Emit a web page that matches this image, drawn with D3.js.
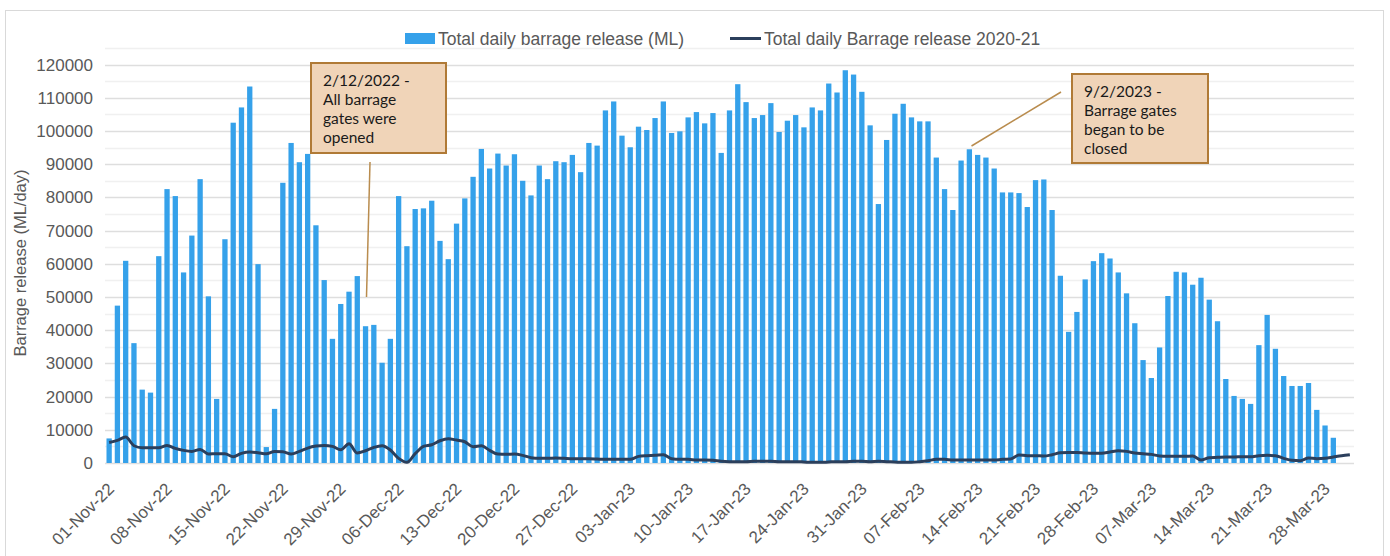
<!DOCTYPE html>
<html>
<head>
<meta charset="utf-8">
<script src="https://cdn.jsdelivr.net/npm/d3@7"></script>
<style>
  body { margin: 0; background: #fff; }
  svg { font-family: "Liberation Sans", Arial, sans-serif; }
  .axis text { fill: #595959; font-size: 17px; }
  .note { font-family: Lato, "Open Sans", sans-serif; font-size: 15.5px; fill: #1a1a1a; }
</style>
</head>
<body>
<div id="chart"></div>
<script>
var svgWidth = 1390;
var svgHeight = 556;

var margin = { top: 48, right: 36, bottom: 93, left: 105 };
var width = svgWidth - margin.left - margin.right;
var height = svgHeight - margin.top - margin.bottom;

// daily categories 01-Nov-22 .. 31-Mar-23
var fmt = d3.timeFormat("%d-%b-%y");
var dates = d3.timeDay.range(new Date(2022, 10, 1), new Date(2023, 3, 1)).map(fmt);

var tickLabels = ["01-Nov-22", "08-Nov-22", "15-Nov-22", "22-Nov-22", "29-Nov-22", "06-Dec-22",
    "13-Dec-22", "20-Dec-22", "27-Dec-22", "03-Jan-23", "10-Jan-23", "17-Jan-23", "24-Jan-23",
    "31-Jan-23", "07-Feb-23", "14-Feb-23", "21-Feb-23", "28-Feb-23", "07-Mar-23", "14-Mar-23",
    "21-Mar-23", "28-Mar-23"];

var yTicks = [0, 10000, 20000, 30000, 40000, 50000, 60000, 70000, 80000, 90000, 100000, 110000, 120000];

// Total daily barrage release (ML), 2022-23
var release = [
    7400, 47400, 60900, 36100, 22100, 21200, 62300, 82500, 80400, 57400,
    68500, 85500, 50200, 19300, 67400, 102500, 107100, 113400, 59900, 4800,
    16300, 84400, 96400, 90600, 93100, 71600, 55100, 37400, 47900, 51600,
    56300, 41200, 41600, 30200, 37400, 80400, 65300, 76500, 76700, 79000,
    66900, 61400, 72100, 79700, 86200, 94600, 88700, 93200, 89600, 93000,
    85000, 80600, 89600, 85500, 90900, 90600, 92800, 87600, 96400, 95600,
    106200, 108900, 98600, 95100, 101300, 100300, 103900, 108900, 99400, 99900,
    104100, 105700, 102300, 105400, 93400, 106200, 114100, 108700, 103900, 104800,
    108400, 99700, 103100, 104800, 101100, 107100, 106200, 114300, 111600, 118300,
    117000, 111800, 101700, 78000, 97300, 105200, 108200, 104100, 102900, 102900,
    92000, 82500, 76200, 91100, 94500, 92800, 92000, 88700, 81500, 81500,
    81300, 77100, 85200, 85400, 76200, 56400, 39500, 45500, 55300, 60800,
    63200, 61600, 57400, 51100, 42100, 31000, 25600, 34800, 50300, 57600,
    57400, 53700, 55800, 49200, 42700, 25300, 20200, 19300, 17800, 35500,
    44600, 34400, 26200, 23200, 23200, 24100, 16000, 11300, 7600, null, null
];

// Total daily Barrage release 2020-21
var release2021 = [
    6200, 6800, 7800, 5200, 4600, 4600, 4600, 5300, 4400, 3800,
    3500, 4100, 2700, 2800, 2800, 1900, 2900, 3300, 3100, 2800,
    3500, 3400, 2700, 3500, 4500, 5100, 5300, 5000, 4000, 5800,
    3000, 3700, 4700, 5200, 3900, 1400, 200, 2800, 5000, 5500,
    6700, 7300, 6900, 6400, 4900, 5200, 3800, 2700, 2600, 2700,
    2300, 1600, 1400, 1400, 1500, 1400, 1300, 1300, 1300, 1200,
    1100, 1100, 1100, 1100, 2000, 2200, 2300, 2500, 1300, 1100,
    1100, 900, 900, 800, 500, 400, 400, 400, 500, 500,
    500, 400, 400, 400, 300, 200, 200, 300, 400, 400,
    500, 500, 400, 500, 400, 300, 200, 200, 400, 700,
    1100, 1100, 900, 900, 900, 900, 900, 900, 1100, 1200,
    2400, 2200, 2200, 2100, 2500, 3100, 3200, 3200, 3000, 2900,
    2900, 3300, 3700, 3500, 3000, 2800, 2600, 2100, 2000, 2000,
    2000, 2100, 900, 1600, 1700, 1800, 1800, 1900, 1900, 2200,
    2300, 2200, 1400, 800, 700, 1500, 1300, 1400, 1800, 2200, 2500
];

var svg = d3.select("#chart")
    .append("svg")
    .attr("width", svgWidth)
    .attr("height", svgHeight);

// chart frame
svg.append("rect")
    .attr("x", 5.5).attr("y", 10.5)
    .attr("width", 1378).attr("height", 560)
    .attr("fill", "none")
    .attr("stroke", "#d9d9d9");

var chartGroup = svg.append("g")
    .attr("transform", `translate(${margin.left}, ${margin.top})`);

var xBand = d3.scaleBand()
    .domain(dates)
    .range([0, width])
    .paddingInner(0.36)
    .paddingOuter(0.18);

var yLinearScale = d3.scaleLinear()
    .domain([0, 125000])
    .range([height, 0]);

// gridlines (major every 10000, minor every 5000)
chartGroup.append("g")
    .selectAll("line")
    .data(d3.range(0, 125001, 5000))
    .enter()
    .append("line")
    .attr("x1", 0)
    .attr("x2", width)
    .attr("y1", d => Math.round(yLinearScale(d)) + 0.5)
    .attr("y2", d => Math.round(yLinearScale(d)) + 0.5)
    .attr("stroke", d => d % 10000 === 0 ? "#dedede" : "#f0f0f0")
    .attr("stroke-width", 1.5);

// bars
chartGroup.append("g")
    .selectAll("rect")
    .data(dates.map((d, i) => ({ date: d, value: release[i] })).filter(d => d.value != null))
    .enter()
    .append("rect")
    .attr("x", d => xBand(d.date))
    .attr("width", xBand.bandwidth())
    .attr("y", d => yLinearScale(d.value))
    .attr("height", d => height - yLinearScale(d.value))
    .attr("fill", "#35a1ea");

// 2020-21 line
var line = d3.line()
    .x((d, i) => xBand(dates[i]) + xBand.bandwidth() / 2)
    .y(d => yLinearScale(d))
    .curve(d3.curveMonotoneX);

chartGroup.append("path")
    .datum(release2021)
    .attr("d", line)
    .attr("fill", "none")
    .attr("stroke", "#2b3f5c")
    .attr("stroke-width", 3);

// axes
var leftAxis = d3.axisLeft(yLinearScale)
    .tickValues(yTicks)
    .tickSize(0)
    .tickPadding(12)
    .tickFormat(d3.format("d"));

chartGroup.append("g")
    .attr("class", "axis")
    .call(leftAxis)
    .call(g => g.select(".domain").remove());

var bottomAxis = d3.axisBottom(xBand)
    .tickValues(tickLabels)
    .tickSize(0)
    .tickPadding(0);

chartGroup.append("g")
    .attr("class", "axis")
    .attr("transform", `translate(0, ${height})`)
    .call(bottomAxis)
    .call(g => g.select(".domain").remove())
    .selectAll("text")
    .attr("text-anchor", "end")
    .attr("dy", null)
    .attr("y", 0)
    .attr("transform", "translate(6, 27) rotate(-45)");

// y axis title
svg.append("text")
    .attr("transform", "translate(26, 263) rotate(-90)")
    .attr("text-anchor", "middle")
    .attr("fill", "#595959")
    .attr("font-size", "16.5px")
    .text("Barrage release (ML/day)");

// legend
var legend = svg.append("g");
legend.append("rect")
    .attr("x", 405).attr("y", 33)
    .attr("width", 30).attr("height", 11)
    .attr("fill", "#35a1ea");
legend.append("text")
    .attr("x", 438).attr("y", 44.5)
    .attr("fill", "#595959").attr("font-size", "17.5px")
    .text("Total daily barrage release (ML)");
legend.append("line")
    .attr("x1", 730).attr("x2", 761)
    .attr("y1", 38.5).attr("y2", 38.5)
    .attr("stroke", "#2b3f5c").attr("stroke-width", 3);
legend.append("text")
    .attr("x", 764).attr("y", 44.5)
    .attr("fill", "#595959").attr("font-size", "17.5px")
    .text("Total daily Barrage release 2020-21");

// annotations
var notes = [
    { box: [311, 63, 135, 90], lines: ["2/12/2022 -", "All barrage", "gates were", "opened"],
      from: [370, 162], to: [366.5, 297] },
    { box: [1072, 74, 136, 89], lines: ["9/2/2023 -", "Barrage gates", "began to be", "closed"],
      from: [1061, 92], to: [971.5, 146] }
];

notes.forEach(function (n) {
    svg.append("line")
        .attr("x1", n.from[0]).attr("y1", n.from[1])
        .attr("x2", n.to[0]).attr("y2", n.to[1])
        .attr("stroke", "#b98c4e").attr("stroke-width", 1.5);
    svg.append("rect")
        .attr("x", n.box[0]).attr("y", n.box[1])
        .attr("width", n.box[2]).attr("height", n.box[3])
        .attr("fill", "#f0d4b8")
        .attr("stroke", "#b07a36")
        .attr("stroke-width", 2);
    var t = svg.append("text")
        .attr("class", "note");
    n.lines.forEach(function (s, i) {
        t.append("tspan")
            .attr("x", n.box[0] + 12)
            .attr("y", n.box[1] + 23 + i * 19)
            .text(s);
    });
});
</script>
</body>
</html>
